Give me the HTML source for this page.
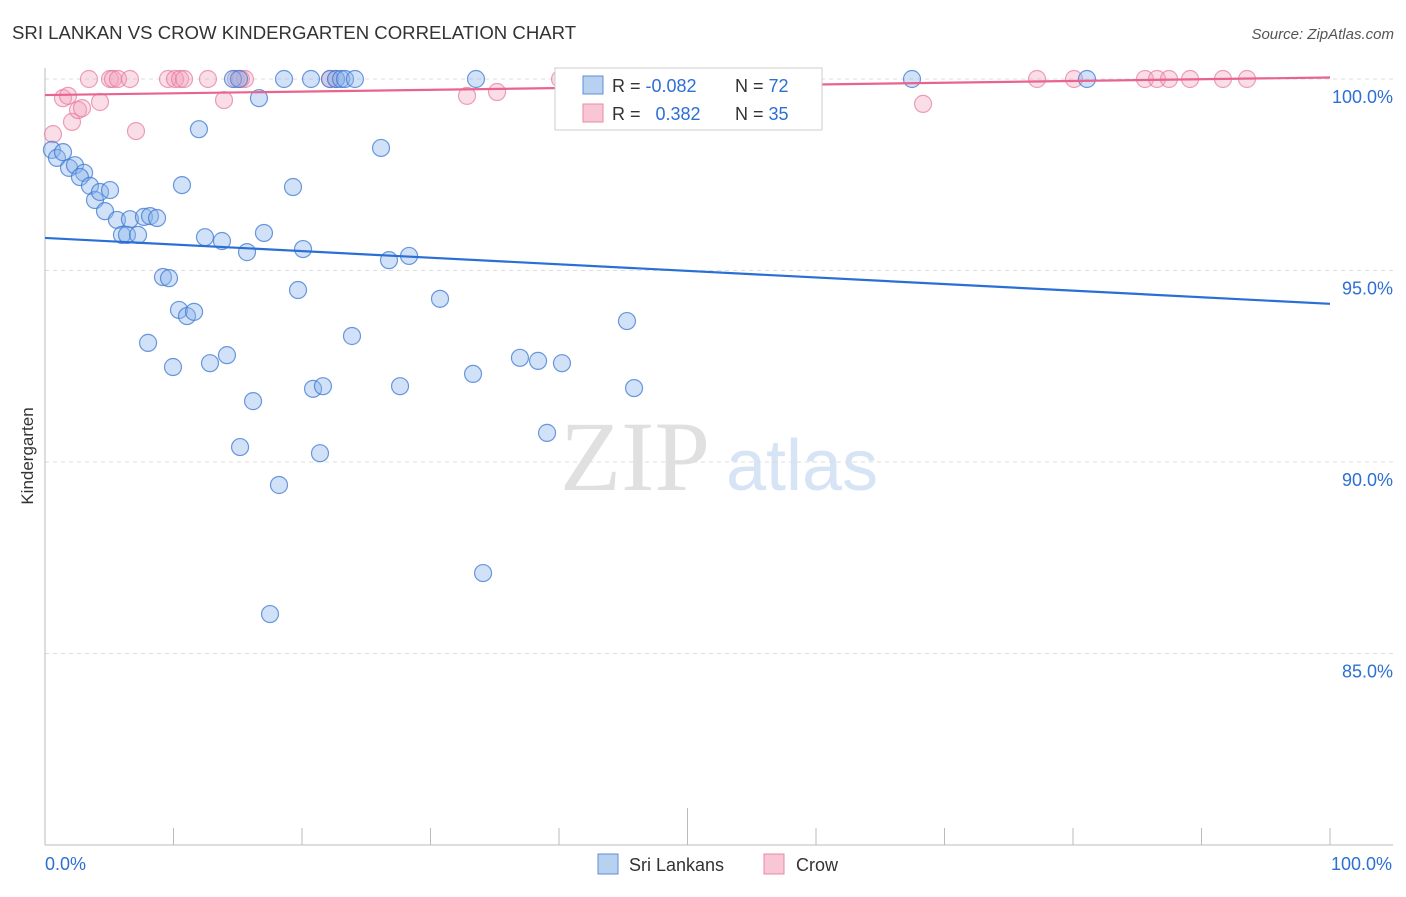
<!DOCTYPE html>
<html><head><meta charset="utf-8">
<style>
body{margin:0;background:#fff;font-family:"Liberation Sans",sans-serif;}
</style></head>
<body>
<svg id="chart" width="1406" height="892" viewBox="0 0 1406 892" xmlns="http://www.w3.org/2000/svg" font-family="Liberation Sans, sans-serif">
<text x="12" y="39" font-size="18.6" fill="#333">SRI LANKAN VS CROW KINDERGARTEN CORRELATION CHART</text>
<text x="1394" y="39" font-size="15" fill="#555" font-style="italic" text-anchor="end">Source: ZipAtlas.com</text>
<g>
<text x="635" y="490" font-size="100" fill="#e0e0e0" style="font-family:'Liberation Serif',serif" text-anchor="middle">ZIP</text>
<text x="802" y="490" font-size="72" fill="#d6e4f5" text-anchor="middle">atlas</text>
</g>
<g id="grid"></g>
<g id="axes"></g>
<g id="marks"></g>
<text x="33" y="456" font-size="17" fill="#333" text-anchor="middle" transform="rotate(-90 33 456)">Kindergarten</text>
<g>
<rect x="555" y="68" width="267" height="62" fill="#fff" stroke="#ccc"/>
<rect x="583" y="76" width="20" height="18" fill="#b9d1f0" stroke="#5b8fd8"/>
<rect x="583" y="104" width="20" height="18" fill="#f8c6d4" stroke="#e88aa6"/>
<text x="612" y="92" font-size="18" fill="#333">R = <tspan fill="#2d6fd3">-0.082</tspan></text>
<text x="735" y="92" font-size="18" fill="#333">N = <tspan fill="#2d6fd3">72</tspan></text>
<text x="612" y="120" font-size="18" fill="#333">R = <tspan fill="#2d6fd3" dx="10">0.382</tspan></text>
<text x="735" y="120" font-size="18" fill="#333">N = <tspan fill="#2d6fd3">35</tspan></text>
</g>
<g>
<rect x="598" y="854" width="20" height="20" fill="#b9d1f0" stroke="#5b8fd8"/>
<text x="629" y="871" font-size="18" fill="#333">Sri Lankans</text>
<rect x="764" y="854" width="20" height="20" fill="#f8c6d4" stroke="#e88aa6"/>
<text x="796" y="871" font-size="18" fill="#333">Crow</text>
</g>
</svg>
<script>
const yTicks=[100,95,90,85];
const yTickLabels=["100.0%","95.0%","90.0%","85.0%"];
const xTicks=[0,10,20,30,40,50,60,70,80,90,100];
const xEndLabels=["0.0%","100.0%"];
const blueX=[0.54,0.93,1.40,1.87,2.33,3.04,2.72,3.50,3.89,4.28,5.06,4.67,5.60,5.99,6.61,6.38,7.24,7.70,8.17,8.72,9.18,9.65,8.02,9.96,10.43,11.05,11.60,10.66,11.98,12.45,12.84,13.77,14.16,15.18,14.63,15.10,15.72,16.19,16.65,17.04,17.51,18.21,18.60,19.30,19.69,20.08,20.70,20.86,21.40,21.63,22.18,22.65,23.04,23.35,23.89,24.12,26.15,26.77,27.63,28.33,30.74,33.31,33.54,34.09,36.96,38.37,39.07,40.23,45.29,45.84,67.47,81.09];
const blueY=[98.15,97.94,98.09,97.68,97.75,97.55,97.44,97.21,96.84,97.05,97.10,96.55,96.32,95.93,96.34,95.93,95.93,96.40,96.42,96.37,94.83,94.80,93.11,92.48,93.97,93.81,93.92,97.23,98.69,95.87,92.58,95.77,92.79,90.39,100,100,95.48,91.59,99.50,95.98,86.03,89.40,100,97.18,94.49,95.56,100,91.91,90.23,91.98,100,100,100,100,93.29,100,98.20,95.27,91.98,95.38,94.26,92.30,100,87.10,92.72,92.64,90.76,92.58,93.68,91.93,100,100];
const pinkX=[0.62,1.40,1.79,2.10,2.57,2.88,4.28,3.42,5.06,5.29,5.68,6.61,7.08,9.57,10.12,10.51,10.82,12.68,13.93,14.86,15.25,15.56,22.18,22.65,32.84,35.18,40.08,68.33,77.20,80.08,85.60,86.54,87.47,89.11,91.67,93.54];
const pinkY=[98.56,99.50,99.56,98.88,99.19,99.24,99.40,100,100,100,100,100,98.64,100,100,100,100,100,99.45,100,100,100,100,100,99.56,99.66,100,99.35,100,100,100,100,100,100,100,100];
const blueTrend=[95.85,94.13];
const pinkTrend=[99.58,100.04];
const NS="http://www.w3.org/2000/svg";
const X=v=>45+v*12.85, Y=v=>79+(100-v)*38.3;
function mk(tag,attrs,parent){const e=document.createElementNS(NS,tag);for(const k in attrs)e.setAttribute(k,attrs[k]);document.getElementById(parent).appendChild(e);return e;}
yTicks.forEach((t,i)=>{
 const l=mk('line',{x1:45,x2:1393,y1:Y(t),y2:Y(t),stroke:'#ddd','stroke-dasharray':'4,4'},'grid');
 
 
 const tx=mk('text',{x:1393,y:Y(t)+24,'font-size':18,fill:'#2d6fd3','text-anchor':'end'},'axes');
 tx.textContent=yTickLabels[i];
 
 
});
const ya=mk('line',{x1:45,x2:45,y1:68,y2:845,stroke:'#bbb'},'axes');


const xa=mk('line',{x1:45,x2:1393,y1:845,y2:845,stroke:'#bbb'},'axes');


xTicks.forEach(t=>{
 const l=mk('line',{x1:X(t),x2:X(t),y1:t===50?808:828,y2:845,stroke:'#bbb'},'axes');
 
 
});
[[0,'start'],[100,'end']].forEach((p,i)=>{
 const tx=mk('text',{x:X(p[0])+(i?62:0),y:870,'font-size':18,fill:'#2d6fd3','text-anchor':p[1]},'axes');
 tx.textContent=xEndLabels[i];
 
 
});
pinkX.forEach((x,i)=>{
 const c=mk('circle',{cx:X(x),cy:Y(pinkY[i]),r:8.5,fill:'rgba(242,160,185,0.35)',stroke:'rgba(230,120,155,0.7)','stroke-width':1.2},'marks');
 
 
});
blueX.forEach((x,i)=>{
 const c=mk('circle',{cx:X(x),cy:Y(blueY[i]),r:8.5,fill:'rgba(140,180,235,0.4)',stroke:'rgba(60,120,210,0.75)','stroke-width':1.2},'marks');
 
 
});
const bt=mk('line',{x1:X(0),x2:X(100),y1:Y(blueTrend[0]),y2:Y(blueTrend[1]),stroke:'#2a6fd6','stroke-width':2.2},'marks');


const pt=mk('line',{x1:X(0),x2:X(100),y1:Y(pinkTrend[0]),y2:Y(pinkTrend[1]),stroke:'#e8648e','stroke-width':2.2},'marks');


</script>
</body></html>
